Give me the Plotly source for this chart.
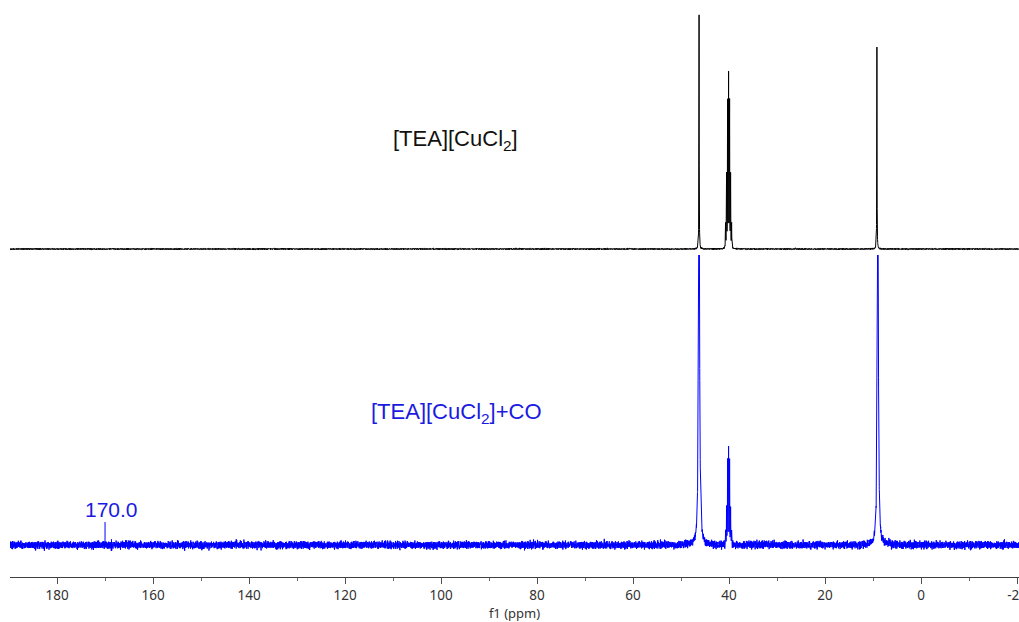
import numpy as np
import plotly.graph_objects as go
from plotly.subplots import make_subplots

# ---- chemical-shift axis (ppm, drawn reversed) ----
ppm_min, ppm_max, ppm_step = -20.4, 189.8, 0.01

# ---- [TEA][CuCl2] (black) : singlets and the DMSO-d6 septet ----
black_singlet_ppm = [46.25, 9.20]
black_singlet_height = [234.0, 202.0]
black_singlet_hwhm = [0.03, 0.03]
black_septet_center = 40.10
black_septet_heights = [24.0, 72.0, 145.0, 171.0, 145.0, 72.0, 24.0]
black_noise_rms = 0.3

# ---- [TEA][CuCl2]+CO (blue) ----
blue_singlet_ppm = [46.25, 9.00, 170.0]
blue_singlet_height = [420.0, 400.0, 0.0]
blue_singlet_hwhm = [0.12, 0.12, 0.05]
blue_septet_center = 40.10
blue_septet_heights = [13.0, 37.0, 81.0, 95.0, 81.0, 37.0, 13.0]
blue_noise_rms = 1.6

septet_j = 0.21        # 13C-2H coupling, ppm
septet_hwhm = 0.03

# marker on the carbonyl region
marker_ppm = 170.0
marker_label = "170.0"
marker_span = [3.0, 23.0]

# tick values and labels for the shift axis (plain hyphen for negatives)
tick_values = list(range(-20, 181, 20))
tick_labels = [str(v) for v in tick_values]

BLACK = "#000000"
BLUE = "#0000ff"


def lorentz(x, x0, h, g):
    return h * g * g / ((x - x0) ** 2 + g * g)


def build_trace(x, singlet_ppm, singlet_h, singlet_w, sep_c, sep_h, noise_rms, seed):
    y = np.zeros_like(x)
    for p, h, w in zip(singlet_ppm, singlet_h, singlet_w):
        y += lorentz(x, p, h, w)
    for k, h in enumerate(sep_h):
        y += lorentz(x, sep_c + (k - 3) * septet_j, h, septet_hwhm)
    # receiver noise floor at the measured rms level
    rng = np.random.default_rng(seed)
    y += rng.normal(0.0, noise_rms, x.size)
    return y


ppm = np.round(np.arange(ppm_min, ppm_max + ppm_step / 2, ppm_step), 2)
y_black = build_trace(ppm, black_singlet_ppm, black_singlet_height, black_singlet_hwhm,
                      black_septet_center, black_septet_heights, black_noise_rms, 7)
y_blue = build_trace(ppm, blue_singlet_ppm, blue_singlet_height, blue_singlet_hwhm,
                     blue_septet_center, blue_septet_heights, blue_noise_rms, 11)

fig = make_subplots(rows=2, cols=1, shared_xaxes=True, vertical_spacing=0,
                    row_heights=[255, 322])

fig.add_trace(go.Scatter(x=ppm, y=y_black, mode="lines",
                         line=dict(color=BLACK, width=1), hoverinfo="skip"),
              row=1, col=1)
fig.add_trace(go.Scatter(x=ppm, y=y_blue, mode="lines",
                         line=dict(color=BLUE, width=1), hoverinfo="skip"),
              row=2, col=1)
fig.add_trace(go.Scatter(x=[marker_ppm, marker_ppm], y=marker_span, mode="lines",
                         line=dict(color=BLUE, width=1), hoverinfo="skip"),
              row=2, col=1)

fig.add_annotation(x=marker_ppm, y=36, xref="x2", yref="y2", text=marker_label,
                   showarrow=False, xanchor="center", yanchor="middle", xshift=6,
                   font=dict(family="Liberation Sans, Arial", size=21, color="#1a1ae0"))

fig.add_annotation(x=0.442, y=0.757, xref="paper", yref="paper",
                   text="[TEA][CuCl<sub>2</sub>]", showarrow=False,
                   xanchor="center", yanchor="middle",
                   font=dict(family="Liberation Sans, Arial", size=22, color="#111111"))
fig.add_annotation(x=0.443, y=0.284, xref="paper", yref="paper",
                   text="[TEA][CuCl<sub>2</sub>]+CO", showarrow=False,
                   xanchor="center", yanchor="middle",
                   font=dict(family="Liberation Sans, Arial", size=22, color="#1a1ae0"))

fig.update_xaxes(range=[ppm_max, ppm_min], row=1, col=1, visible=False)
fig.update_xaxes(range=[ppm_max, ppm_min], row=2, col=1,
                 showline=True, linecolor="#404040", linewidth=1,
                 showgrid=False, zeroline=False, automargin=False,
                 tickmode="array", tickvals=tick_values, ticktext=tick_labels,
                 ticklabeloverflow="allow",
                 ticks="outside", ticklen=6, tickcolor="#505050", tickwidth=1,
                 minor=dict(ticks="outside", ticklen=3, dtick=10, tick0=0,
                            tickcolor="#707070", showgrid=False),
                 tickfont=dict(family="Noto Sans", size=13.5, color="#333333"),
                 title=dict(text="f1 (ppm)",
                            font=dict(family="Noto Sans", size=13, color="#333333"),
                            standoff=2))

fig.update_yaxes(range=[-6, 249], row=1, col=1, visible=False)
fig.update_yaxes(range=[-32, 290], row=2, col=1, visible=False)

fig.update_layout(width=1019, height=622,
                  margin=dict(l=10, r=0, t=0, b=45),
                  showlegend=False,
                  plot_bgcolor="white", paper_bgcolor="white")

fig.write_html("out.html")
